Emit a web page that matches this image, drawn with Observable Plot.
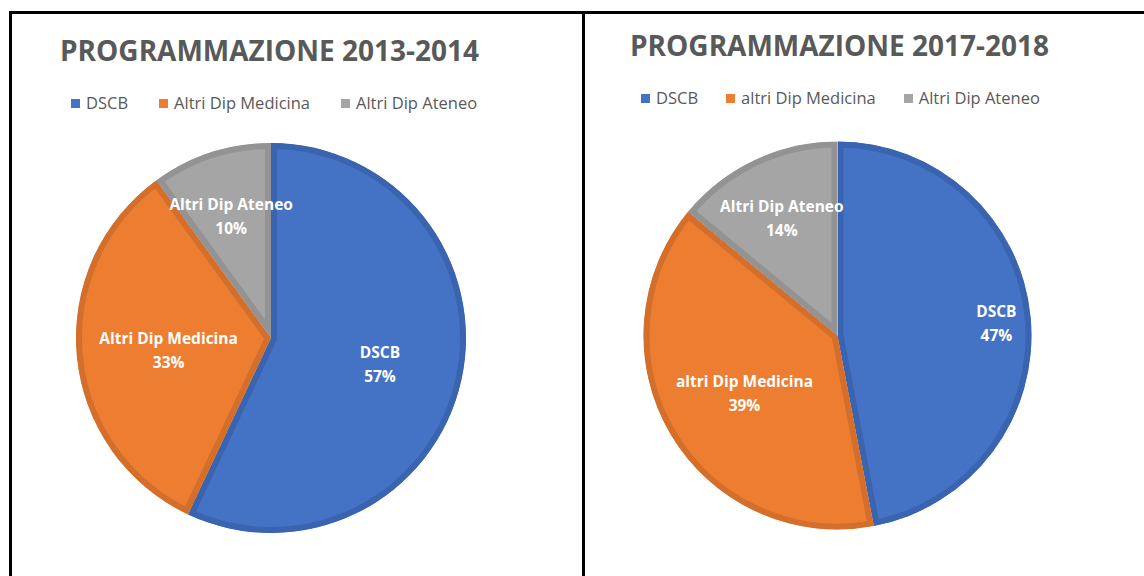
<!DOCTYPE html>
<html>
<head>
<meta charset="utf-8">
<script src="https://cdn.jsdelivr.net/npm/d3@7"></script>
<script src="https://cdn.jsdelivr.net/npm/@observablehq/plot@0.6"></script>
<style>
  html, body { margin: 0; padding: 0; background: #fff; }
  #page { position: relative; width: 1144px; height: 576px; overflow: hidden; font-family: "Open Sans", sans-serif; }
  .line { position: absolute; background: #000; }
  .title { position: absolute; font-weight: 700; font-size: 28px; line-height: 28px; color: #595959; white-space: nowrap; }
  .legend { position: absolute; display: flex; align-items: center; font-size: 16.5px; line-height: 20px; color: #595959; white-space: nowrap; }
  .legend .item { display: flex; align-items: center; }
  .legend .sw { width: 9px; height: 9px; margin-right: 6px; margin-top: 1px; }
  .panel { position: absolute; top: 0; }
</style>
</head>
<body>
<div id="page"></div>
<script>
// ---- data ----
const titles = ["PROGRAMMAZIONE 2013-2014", "PROGRAMMAZIONE 2017-2018"];
const categories2013 = ["DSCB", "Altri Dip Medicina", "Altri Dip Ateneo"];
const values2013 = [57, 33, 10];
const categories2017 = ["DSCB", "altri Dip Medicina", "Altri Dip Ateneo"];
const values2017 = [47, 39, 14];
const fillColors = ["#4472C4", "#ED7D31", "#A5A5A5"];
const strokeColors = ["#3A64AF", "#D46F2B", "#939393"];

// ---- layout (not data) ----
const panels = [
  {left: 0, width: 582, cx: 271, cy: 338, r: 195, titleX: 60, titleTop: 36, legendX: 71, legendTop: 93, legendGap: 31,
   labelR: [0.57, 0.53, 0.67], cats: categories2013, vals: values2013, title: titles[0]},
  {left: 583, width: 561, cx: 254.5, cy: 335.5, r: 194, titleX: 47, titleTop: 31, legendX: 58, legendTop: 88, legendGap: 28,
   labelR: [0.82, 0.56, 0.68], cats: categories2017, vals: values2017, title: titles[1]}
];

const page = document.getElementById("page");
function addLine(l, t, w, h) {
  const d = document.createElement("div");
  d.className = "line";
  Object.assign(d.style, {left: l + "px", top: t + "px", width: w + "px", height: h + "px"});
  page.appendChild(d);
}

let clipId = 0;
panels.forEach((p, pi) => {
  const rows = p.cats.map((c, i) => ({name: c, value: p.vals[i], color: fillColors[i], stroke: strokeColors[i], lr: p.labelR[i]}));
  const arcs = d3.pie().sort(null).value(d => d.value)(rows);
  arcs.forEach(a => {
    const mid = (a.startAngle + a.endAngle) / 2;
    a.data.lx = a.data.lr * Math.sin(mid);
    a.data.ly = a.data.lr * Math.cos(mid);
  });

  const pieMark = (index, scales) => {
    const sx = scales.x, sy = scales.y;
    const cx = sx(0), cy = sy(0);
    const R = Math.abs(sx(1) - sx(0));
    const arcGen = d3.arc().innerRadius(0).outerRadius(R);
    const g = d3.create("svg:g").attr("transform", `translate(${cx},${cy})`);
    const defs = g.append("defs");
    arcs.forEach(a => {
      const id = "clip" + (clipId++);
      defs.append("clipPath").attr("id", id).append("path").attr("d", arcGen(a));
      g.append("path")
        .attr("d", arcGen(a))
        .attr("fill", a.data.color)
        .attr("stroke", a.data.stroke)
        .attr("stroke-width", 12)
        .attr("stroke-linejoin", "miter")
        .attr("clip-path", `url(#${id})`);
    });
    return g.node();
  };

  const svg = Plot.plot({
    width: p.width,
    height: 576,
    margin: 0,
    x: {domain: [-1, 1], range: [p.cx - p.r, p.cx + p.r], axis: null},
    y: {domain: [-1, 1], range: [p.cy + p.r, p.cy - p.r], axis: null},
    style: {background: "transparent", overflow: "visible"},
    marks: [
      pieMark,
      Plot.text(rows, {
        x: "lx", y: "ly",
        text: d => `${d.name}\n${d.value}%`,
        fill: "white", fontWeight: "bold", fontSize: 15.5, lineHeight: 1.55,
        fontFamily: "Open Sans"
      })
    ]
  });
  const wrap = document.createElement("div");
  wrap.className = "panel";
  wrap.style.left = p.left + "px";
  wrap.appendChild(svg);
  page.appendChild(wrap);

  const t = document.createElement("div");
  t.className = "title";
  t.textContent = p.title;
  t.style.left = (p.left + p.titleX) + "px";
  t.style.top = p.titleTop + "px";
  page.appendChild(t);

  const lg = document.createElement("div");
  lg.className = "legend";
  lg.style.left = (p.left + p.legendX) + "px";
  lg.style.top = p.legendTop + "px";
  rows.forEach((r, i) => {
    const it = document.createElement("div");
    it.className = "item";
    if (i < rows.length - 1) it.style.marginRight = p.legendGap + "px";
    const sw = document.createElement("div");
    sw.className = "sw";
    sw.style.background = r.color;
    const tx = document.createElement("span");
    tx.textContent = r.name;
    it.appendChild(sw); it.appendChild(tx);
    lg.appendChild(it);
  });
  page.appendChild(lg);
});

// frame lines
addLine(9, 11, 1135, 3);
addLine(9, 11, 3, 565);
addLine(582, 11, 3, 565);
</script>
</body>
</html>
